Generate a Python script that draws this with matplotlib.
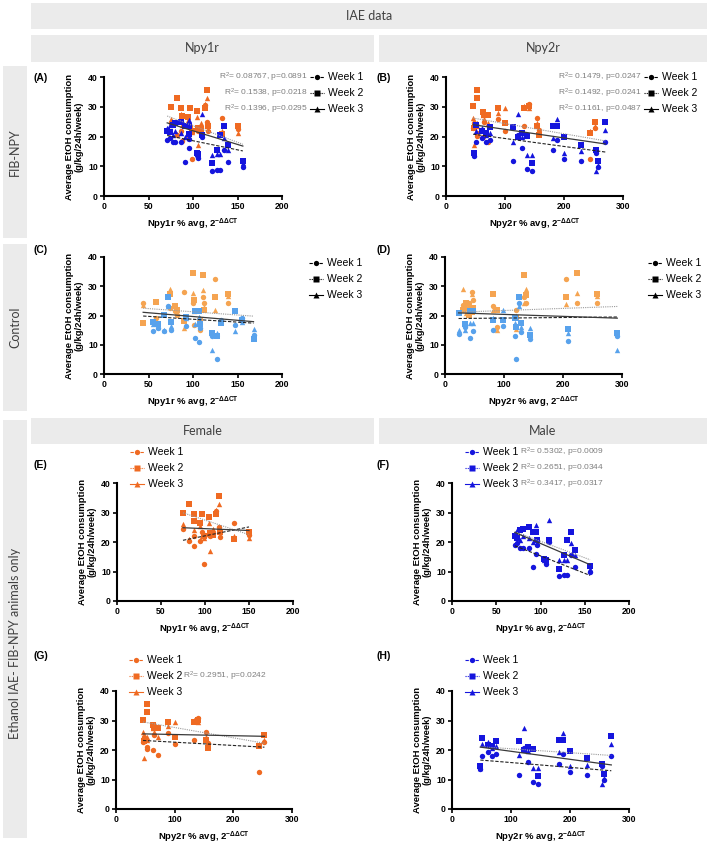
import numpy as np
import matplotlib.pyplot as plt
from matplotlib.lines import Line2D
from matplotlib.patches import Rectangle

plt.rcParams["font.family"] = ["Liberation Sans", "DejaVu Sans"]
plt.rcParams["mathtext.fontset"] = "custom"
plt.rcParams["mathtext.rm"] = "Liberation Sans"
plt.rcParams["mathtext.bf"] = "Liberation Sans:bold"
plt.rcParams["mathtext.it"] = "Liberation Sans:italic"

W, H = 709, 844

# ---- FIB-NPY females, Npy1r (E) ----
f_y1r_x = [75, 82, 87, 88, 94, 97, 99, 104, 106, 109, 113, 116, 117, 133, 150]
f_y1r_w1 = [24.5, 20.5, 22.0, 18.5, 20.5, 23.5, 12.5, 22.5, 22.0, 23.0, 30.5, 25.0, 21.8, 26.3, 22.5]
f_y1r_w2 = [30.0, 33.0, 29.5, 27.0, 26.5, 29.5, 22.0, 28.5, 23.0, 22.5, 29.5, 35.5, 23.5, 21.0, 23.5]
f_y1r_w3 = [26.0, 21.0, 27.5, 24.0, 25.5, 22.0, 21.5, 26.5, 17.0, 24.5, 31.0, 32.8, 24.5, 22.0, 21.2]

# ---- FIB-NPY males, Npy1r (F) ----
m_y1r_x = [71, 74, 77, 80, 87, 91, 95, 96, 104, 106, 110, 121, 127, 130, 135, 139, 156]
m_y1r_w1 = [18.9, 19.5, 18.0, 18.0, 18.0, 11.4, 16.1, 19.0, 13.9, 12.7, 20.0, 8.5, 8.8, 8.8, 15.5, 11.4, 9.9]
m_y1r_w2 = [22.0, 21.5, 24.0, 24.5, 25.0, 23.4, 23.4, 20.8, 14.4, 14.0, 20.6, 11.0, 15.5, 20.6, 23.4, 17.2, 11.8]
m_y1r_w3 = [23.0, 24.0, 20.6, 22.0, 21.2, 20.0, 25.7, 19.5, 14.0, 13.5, 27.6, 13.9, 14.0, 14.0, 19.5, 15.5, 11.0]

# ---- FIB-NPY females, Npy2r (G) ----
f_y2r_x = [46, 48, 52, 53, 63, 65, 72, 88, 100, 133, 140, 154, 157, 244, 253]
f_y2r_w1 = [22.8, 24.5, 21.1, 20.2, 20.0, 25.0, 18.3, 25.8, 22.0, 23.4, 31.0, 26.2, 22.3, 12.4, 22.8]
f_y2r_w2 = [30.1, 23.0, 35.5, 32.9, 28.4, 27.3, 27.3, 29.6, 24.5, 29.6, 30.1, 23.4, 20.6, 21.3, 25.0]
f_y2r_w3 = [26.2, 17.2, 23.4, 24.5, 27.3, 26.0, 24.5, 28.0, 29.6, 30.1, 29.6, 24.5, 21.7, 22.0, 23.5]

# ---- FIB-NPY males, Npy2r (H) ----
m_y2r_x = [48, 51, 61, 68, 74, 114, 122, 128, 138, 146, 182, 188, 200, 228, 254, 257, 270]
m_y2r_w1 = [13.5, 18.0, 19.4, 18.0, 18.7, 11.6, 20.6, 16.1, 9.0, 8.5, 15.3, 18.8, 12.5, 11.6, 14.6, 9.9, 18.0]
m_y2r_w2 = [14.6, 24.0, 21.7, 21.3, 23.1, 23.1, 20.0, 21.1, 20.2, 11.2, 23.4, 23.4, 19.8, 17.2, 15.3, 11.9, 24.8]
m_y2r_w3 = [14.0, 22.0, 22.8, 20.6, 21.3, 18.3, 27.6, 19.8, 13.8, 13.8, 19.4, 25.8, 14.6, 15.0, 8.5, 10.5, 22.2]

# ---- Control females / males, Npy1r (C) ----
cf_y1r_x = [44, 58, 74, 80, 82, 90, 100, 101, 108, 111, 112, 125, 139]
cf_y1r_w1 = [24.4, 19.0, 22.6, 21.4, 20.2, 28.0, 24.2, 16.6, 15.0, 26.4, 24.4, 32.6, 24.4]
cf_y1r_w2 = [17.3, 24.6, 27.4, 23.1, 22.0, 18.0, 34.4, 25.3, 18.2, 33.7, 22.0, 26.4, 27.4]
cf_y1r_w3 = [23.5, 18.5, 29.1, 23.7, 21.0, 15.6, 27.7, 21.6, 19.0, 28.7, 23.0, 22.0, 26.5]
cm_y1r_x = [55, 61, 67, 72, 75, 92, 102, 107, 108, 121, 127, 132, 147, 155, 168]
cm_y1r_w1 = [14.7, 15.8, 14.7, 23.4, 15.0, 16.4, 12.2, 11.0, 15.8, 13.0, 5.1, 18.4, 16.9, 19.0, 13.3]
cm_y1r_w2 = [17.9, 17.0, 20.3, 26.2, 17.9, 19.5, 21.6, 21.6, 17.0, 13.9, 13.0, 17.5, 21.6, 18.5, 11.9]
cm_y1r_w3 = [17.0, 16.0, 15.0, 23.4, 16.5, 19.2, 17.0, 19.6, 18.0, 8.2, 13.9, 18.0, 14.7, 17.9, 15.5]

# ---- Control females / males, Npy2r (D) ----
cf_y2r_x = [30, 35, 40, 45, 48, 82, 88, 120, 134, 137, 205, 223, 257]
cf_y2r_w1 = [23.6, 22.4, 24.4, 28.1, 25.3, 23.2, 16.2, 21.9, 26.4, 24.2, 32.6, 24.2, 24.4]
cf_y2r_w2 = [21.9, 24.2, 20.2, 21.3, 22.4, 27.4, 21.9, 19.0, 33.8, 27.0, 26.4, 34.4, 27.4]
cf_y2r_w3 = [29.0, 20.7, 23.6, 27.4, 23.0, 21.9, 15.0, 15.3, 24.2, 29.0, 24.0, 27.7, 26.5]
cm_y2r_x = [23, 34, 42, 47, 81, 99, 118, 121, 126, 128, 144, 209, 292]
cm_y2r_w1 = [13.7, 15.9, 12.2, 14.7, 15.0, 16.4, 13.0, 5.0, 24.2, 14.5, 11.9, 11.4, 13.0]
cm_y2r_w2 = [20.7, 17.0, 21.6, 21.6, 18.5, 18.5, 19.0, 16.2, 26.2, 17.5, 13.3, 15.3, 13.9]
cm_y2r_w3 = [15.0, 15.0, 17.5, 17.5, 19.0, 21.9, 17.5, 19.8, 23.4, 16.0, 15.6, 14.0, 8.2]

weeks = ["Week 1", "Week 2", "Week 3"]
r2_A = ["= 0.08767, p=0.0891", "= 0.1538, p=0.0218", "= 0.1396, p=0.0295"]
r2_B = ["= 0.1479, p=0.0247", "= 0.1492, p=0.0241", "= 0.1161, p=0.0487"]
r2_F = ["= 0.5302, p=0.0009", "= 0.2651, p=0.0344", "= 0.3417, p=0.0317"]
r2_G = [None, "= 0.2951, p=0.0242", None]

ORANGE = "#EF6A22"
BLUE = "#1515DD"
C_ORANGE = "#F5A451"
C_BLUE = "#58A2EC"
markers = ["o", "s", "^"]
fit_styles = [dict(color="#222222", ls=(0, (3, 1.5)), lw=0.8),
              dict(color="#9a9a9a", ls=(0, (1, 1)), lw=0.8),
              dict(color="#3a3a3a", ls="-", lw=0.9)]
ylab = "Average EtOH consumption\n(g/kg/24h/week)"


def fx(p):
    return p / W


def fy(p):
    return 1 - p / H


def make_axes(x0, x1, ytop, ybot, xmax, gene):
    ax = fig.add_axes([fx(x0), fy(ybot), (x1 - x0) / W, (ybot - ytop) / H])
    ax.set_xlim(0, xmax)
    ax.set_ylim(0, 40)
    ax.set_yticks([0, 10, 20, 30, 40])
    ax.set_xticks([0, 50, 100, 150, 200] if xmax == 200 else [0, 100, 200, 300])
    for s in ["top", "right"]:
        ax.spines[s].set_visible(False)
    for s in ["left", "bottom"]:
        ax.spines[s].set_linewidth(1.5)
    ax.tick_params(direction="out", length=3, width=1.2, pad=1.5, labelsize=6.2)
    for t in ax.get_xticklabels() + ax.get_yticklabels():
        t.set_fontweight("bold")
    ax.set_ylabel(ylab, fontsize=6.8, fontweight="bold", labelpad=3, linespacing=1.05)
    ax.set_xlabel(gene + r" % avg, 2$^{\mathbf{-\Delta\Delta CT}}$", fontsize=6.8,
                  fontweight="bold", labelpad=4)
    return ax


def draw(ax, groups):
    for x, ws, col in groups:
        for k in range(3):
            ax.scatter(x, ws[k], marker=markers[k], s=15, color=col, linewidths=0,
                       zorder=3, clip_on=False)
    for k in range(3):
        xs = np.concatenate([np.array(g[0], float) for g in groups])
        ys = np.concatenate([np.array(g[1][k], float) for g in groups])
        p = np.polyfit(xs, ys, 1)
        xx = np.array([xs.min(), xs.max()])
        ax.plot(xx, np.polyval(p, xx), zorder=4, **fit_styles[k])


def legend(xm, y0, col, lcol, r2=None, r2_side="left", r2x=None, dy=16):
    for k in range(3):
        y = y0 + k * dy
        st = fit_styles[k]
        fig.add_artist(Line2D([fx(xm - 7), fx(xm + 7)], [fy(y), fy(y)], color=lcol,
                              ls=st["ls"], lw=0.8, transform=fig.transFigure))
        fig.add_artist(Line2D([fx(xm)], [fy(y)], marker=markers[k], ms=3.8, color=col,
                              mec="none", ls="none", transform=fig.transFigure))
        fig.text(fx(xm + 11), fy(y), weeks[k], fontsize=7.5, va="center", ha="left")
        if r2 is not None and r2[k] is not None:
            txt = "R$^2$" + r2[k]
            if r2_side == "left":
                fig.text(fx(xm - 9), fy(y), txt, fontsize=6, color="#7f7f7f",
                         va="center", ha="right")
            else:
                fig.text(fx(r2x), fy(y), txt, fontsize=6, color="#7f7f7f",
                         va="center", ha="left")


def header(x0, x1, y0, y1, text, vertical=False, tc=None):
    fig.add_artist(Rectangle((fx(x0), fy(y1)), (x1 - x0) / W, (y1 - y0) / H,
                             facecolor="#EBEBEB", edgecolor="none",
                             transform=fig.transFigure))
    cy = (y0 + y1) / 2 if tc is None else tc
    fig.text(fx((x0 + x1) / 2), fy(cy), text, family="Lato", fontsize=9,
             color="#404040", ha="center", va="center", rotation=90 if vertical else 0)


fig = plt.figure(figsize=(W / 100, H / 100), dpi=100)

# header boxes
header(31, 707, 3, 29, "IAE data")
header(31, 374, 35, 62, "Npy1r")
header(379, 707, 35, 62, "Npy2r")
header(31, 374, 418, 444, "Female")
header(379, 707, 418, 444, "Male")
header(3, 27, 66, 238, "FIB-NPY", vertical=True)
header(3, 27, 244, 411, "Control", vertical=True)
header(3, 27, 420, 838, "Ethanol IAE- FIB-NPY animals only", vertical=True, tc=643)

# panel letters
for lab, x, y in [("(A)", 34, 78), ("(B)", 377, 78), ("(C)", 34, 250), ("(D)", 377, 250),
                  ("(E)", 34, 465), ("(F)", 377, 465), ("(G)", 34, 656), ("(H)", 377, 656)]:
    fig.text(fx(x), fy(y), lab, fontsize=7.5, fontweight="bold", va="center", ha="left")

# A
ax = make_axes(104, 282, 77, 196, 200, "Npy1r")
draw(ax, [(f_y1r_x, [f_y1r_w1, f_y1r_w2, f_y1r_w3], ORANGE),
          (m_y1r_x, [m_y1r_w1, m_y1r_w2, m_y1r_w3], BLUE)])
legend(317, 77, "black", "black", r2_A)

# B
ax = make_axes(446, 623, 77, 196, 300, "Npy2r")
draw(ax, [(f_y2r_x, [f_y2r_w1, f_y2r_w2, f_y2r_w3], ORANGE),
          (m_y2r_x, [m_y2r_w1, m_y2r_w2, m_y2r_w3], BLUE)])
legend(651, 77, "black", "black", r2_B)

# C
ax = make_axes(104, 282, 257, 374, 200, "Npy1r")
draw(ax, [(cf_y1r_x, [cf_y1r_w1, cf_y1r_w2, cf_y1r_w3], C_ORANGE),
          (cm_y1r_x, [cm_y1r_w1, cm_y1r_w2, cm_y1r_w3], C_BLUE)])
legend(316, 263, "black", "black")

# D
ax = make_axes(445, 622, 257, 374, 300, "Npy2r")
draw(ax, [(cf_y2r_x, [cf_y2r_w1, cf_y2r_w2, cf_y2r_w3], C_ORANGE),
          (cm_y2r_x, [cm_y2r_w1, cm_y2r_w2, cm_y2r_w3], C_BLUE)])
legend(655, 263, "black", "black")

# E
ax = make_axes(117, 293, 483, 601, 200, "Npy1r")
draw(ax, [(f_y1r_x, [f_y1r_w1, f_y1r_w2, f_y1r_w3], ORANGE)])
legend(137, 452, ORANGE, ORANGE)

# F
ax = make_axes(452, 629, 483, 601, 200, "Npy1r")
draw(ax, [(m_y1r_x, [m_y1r_w1, m_y1r_w2, m_y1r_w3], BLUE)])
legend(472, 452, BLUE, BLUE, r2_F, r2_side="right", r2x=520)

# G
ax = make_axes(116, 292, 691, 809, 300, "Npy2r")
draw(ax, [(f_y2r_x, [f_y2r_w1, f_y2r_w2, f_y2r_w3], ORANGE)])
legend(136, 660, ORANGE, ORANGE, r2_G, r2_side="right", r2x=183)

# H
ax = make_axes(452, 629, 691, 809, 300, "Npy2r")
draw(ax, [(m_y2r_x, [m_y2r_w1, m_y2r_w2, m_y2r_w3], BLUE)])
legend(472, 660, BLUE, BLUE)

fig.savefig("out.png", dpi=100)
